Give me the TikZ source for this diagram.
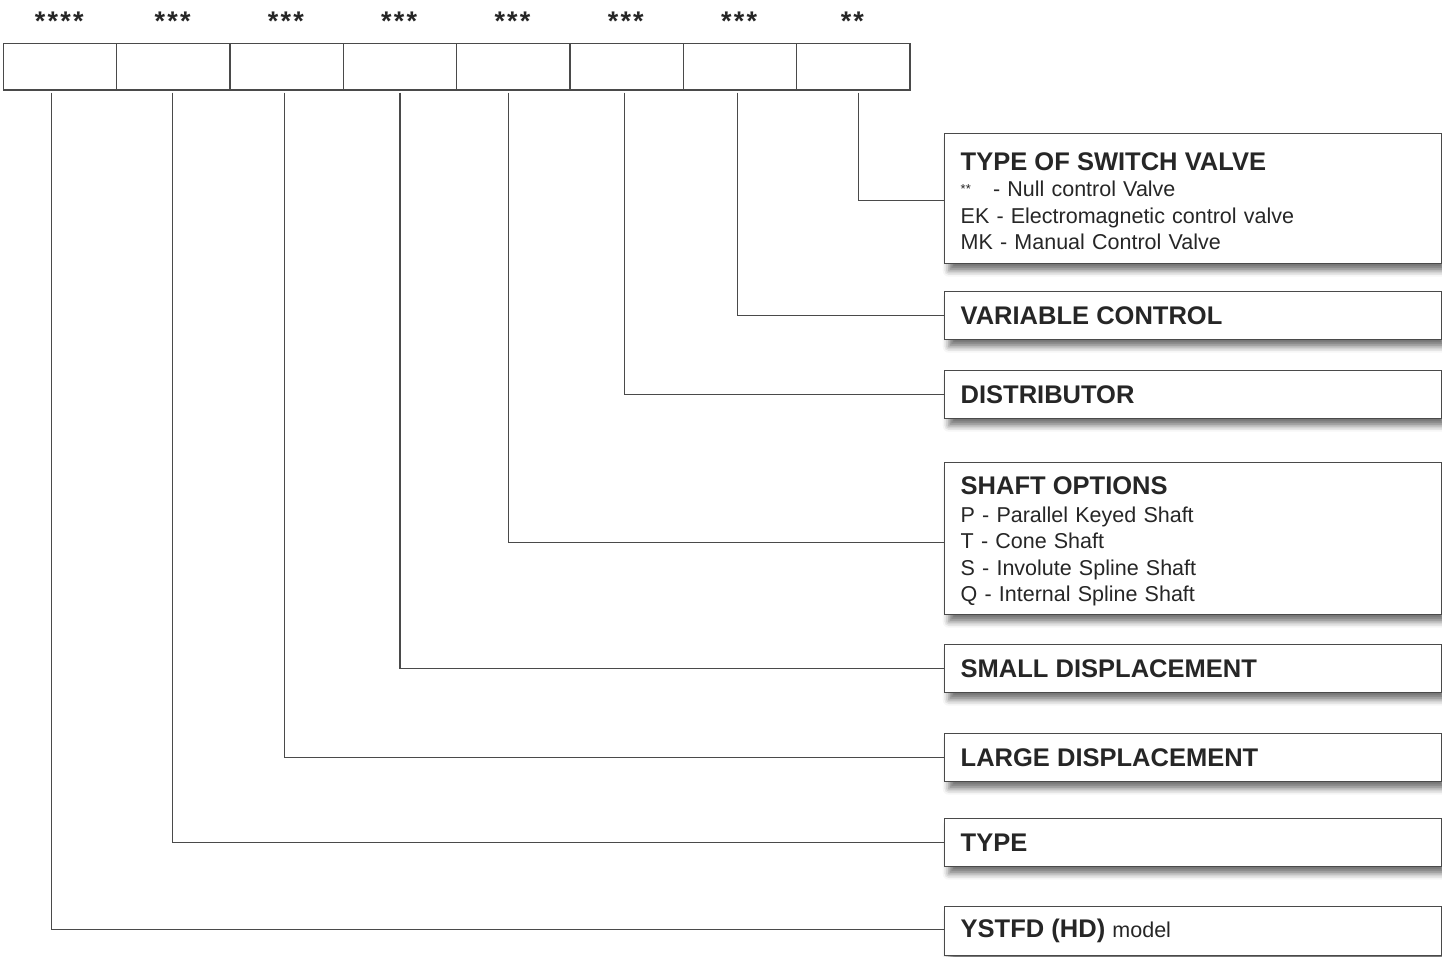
\documentclass[tikz,border=0pt]{standalone}
\usepackage{fontspec}
\setmainfont{Liberation Sans}
\usetikzlibrary{shadows.blur}
\definecolor{inkgray}{HTML}{262626}
\definecolor{linegray}{HTML}{4A4A4A}
\tikzset{
  cell/.style={draw=linegray, line width=1.4pt, minimum width=113.3pt, minimum height=46.6pt, anchor=north west, inner sep=0pt},
  stars/.style={font=\fontsize{27}{27}\selectfont\bfseries, text=inkgray, anchor=base, inner sep=0pt},
  infobox/.style={draw=linegray, line width=1.4pt, fill=white, anchor=north west, minimum width=497pt, text width=465pt, inner xsep=16pt, inner ysep=0pt, align=left, text=inkgray, font=\fontsize{21.5}{26.5}\selectfont, blur shadow={shadow xshift=4pt, shadow yshift=-7pt, shadow blur radius=6pt, shadow opacity=55}},
  lead/.style={draw=linegray, line width=1.3pt},
}
\newcommand{\boxtitle}[1]{{\fontsize{25.5}{26.5}\selectfont\bfseries #1}}
\newcommand{\sk}{\kern2.2pt}
\begin{document}
\begin{tikzpicture}[x=1pt, y=-1pt]
	\useasboundingbox (0,0) rectangle (1442,956);
	% code cells and their star counts
	\node (c1) at (2.7, 42.7) [cell] {};
	\node (c2) at (116, 42.7) [cell] {};
	\node (c3) at (229.3, 42.7) [cell] {};
	\node (c4) at (342.7, 42.7) [cell] {};
	\node (c5) at (456, 42.7) [cell] {};
	\node (c6) at (569.3, 42.7) [cell] {};
	\node (c7) at (682.7, 42.7) [cell] {};
	\node (c8) at (796, 42.7) [cell] {};
	\node (s1) at (59.3, 30.5) [stars] {*\sk*\sk*\sk*};
	\node (s2) at (172.6, 30.5) [stars] {*\sk*\sk*};
	\node (s3) at (285.9, 30.5) [stars] {*\sk*\sk*};
	\node (s4) at (399.2, 30.5) [stars] {*\sk*\sk*};
	\node (s5) at (512.5, 30.5) [stars] {*\sk*\sk*};
	\node (s6) at (625.8, 30.5) [stars] {*\sk*\sk*};
	\node (s7) at (739.1, 30.5) [stars] {*\sk*\sk*};
	\node (s8) at (852.4, 30.5) [stars] {*\sk*};
	% explanation boxes
	\node (valve) at (944, 133) [infobox, minimum height=130] {\rule{0pt}{23pt}\boxtitle{TYPE OF SWITCH VALVE}\\
		\raisebox{0.3ex}{\fontsize{13}{13}\selectfont **}\hspace{0.7em} - Null control Valve\\
		EK - Electromagnetic control valve\\
		MK - Manual Control Valve};
	\node (variable) at (944, 291) [infobox, minimum height=48] {\boxtitle{VARIABLE CONTROL}};
	\node (distrib) at (944, 370) [infobox, minimum height=48] {\boxtitle{DISTRIBUTOR}};
	\node (shaft) at (944, 462) [infobox, minimum height=152] {\rule{0pt}{24pt}\boxtitle{SHAFT OPTIONS}\\[1pt]
		P - Parallel Keyed Shaft\\
		T - Cone Shaft\\
		S - Involute Spline Shaft\\
		Q - Internal Spline Shaft};
	\node (small) at (944, 644) [infobox, minimum height=48] {\boxtitle{SMALL DISPLACEMENT}};
	\node (large) at (944, 733) [infobox, minimum height=48] {\boxtitle{LARGE DISPLACEMENT}};
	\node (type) at (944, 818) [infobox, minimum height=48] {\boxtitle{TYPE}};
	\node (model) at (944, 906) [infobox, minimum height=49] {\boxtitle{YSTFD (HD)} model};
	% leader lines
	\coordinate (t1) at (51.7, 92.7);
	\coordinate (t2) at (172.7, 92.7);
	\coordinate (t3) at (284.3, 92.7);
	\coordinate (t4) at (400, 92.7);
	\coordinate (t5) at (508.3, 92.7);
	\coordinate (t6) at (624.3, 92.7);
	\coordinate (t7) at (737.7, 92.7);
	\coordinate (t8) at (858.7, 92.7);
	\draw[lead] (t8) |- ([yshift=-2pt]valve.west);
	\draw[lead] (t7) |- (variable.west);
	\draw[lead] (t6) |- (distrib.west);
	\draw[lead] (t5) |- ([yshift=-4pt]shaft.west);
	\draw[lead] (t4) |- (small.west);
	\draw[lead] (t3) |- (large.west);
	\draw[lead] (t2) |- (type.west);
	\draw[lead] (t1) |- ([yshift=2pt]model.west);
\end{tikzpicture}
\end{document}
